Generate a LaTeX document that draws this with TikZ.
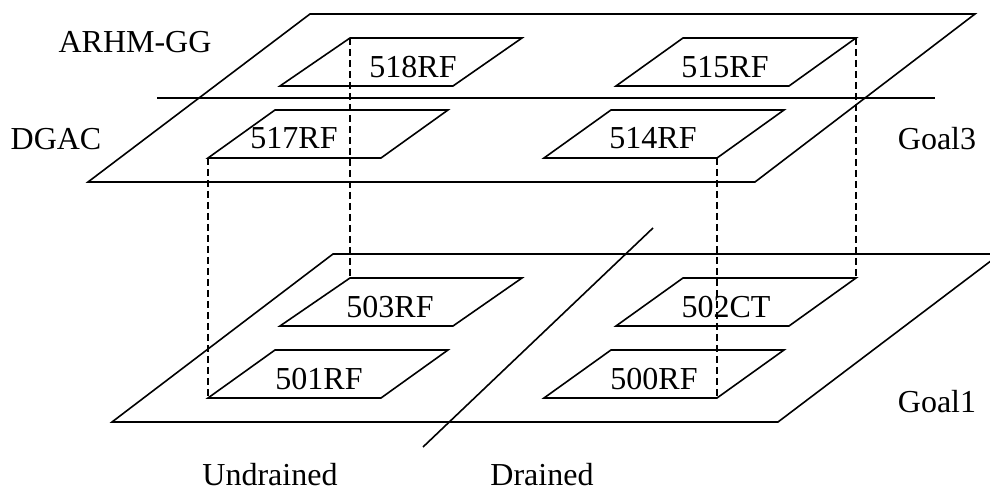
\documentclass[tikz,border=0pt]{standalone}
\usepackage{fontspec}
\setmainfont{Liberation Serif}
\begin{document}
\begin{tikzpicture}[x=0.5pt, y=-0.5pt, line width=0.8pt, line join=miter,
    lbl/.style={font=\fontsize{16}{19}\selectfont, inner sep=0pt},
    link/.style={dash pattern=on 3.5pt off 2pt}]
        \useasboundingbox (0,0) rectangle (990,490);

        % upper plane (Goal3)
        \draw (88,182) -- (755,182) -- (975,14) -- (310,14) -- cycle;
        \draw (157,98) coordinate (sepl) -- (935,98) coordinate (sepr);

        \draw (280,86) -- (453,86) -- (522,38) -- (350,38) coordinate (t518) -- cycle;
        \draw (616,86) -- (789,86) -- (856,38) coordinate (t515) -- (683,38) -- cycle;
        \draw (208,158) coordinate (t517) -- (381,158) -- (448,110) -- (275,110) -- cycle;
        \draw (544,158) -- (717,158) coordinate (t514) -- (784,110) -- (611,110) -- cycle;

        % lower plane (Goal1)
        \draw (112,422) -- (778,422) -- (1000,254) -- (333,254) -- cycle;

        \draw (280,326) -- (453,326) -- (522,278) -- (350,278) coordinate (b503) -- cycle;
        \draw (616,326) -- (789,326) -- (856,278) coordinate (b502) -- (683,278) -- cycle;
        \draw (208,398) coordinate (b501) -- (381,398) -- (448,350) -- (275,350) -- cycle;
        \draw (544,398) -- (717,398) coordinate (b500) -- (784,350) -- (611,350) -- cycle;

        % drained / undrained split
        \draw (653,228) coordinate (cut1) -- (423,447) coordinate (cut2);

        \draw [link] (t518) -- (b503);
        \draw [link] (t515) -- (b502);
        \draw [link] (t517) -- (b501);
        \draw [link] (t514) -- (b500);

        \node [lbl] (arhm) at (135,42) {ARHM-GG};
        \node [lbl] (dgac) at (56,139) {DGAC};
        \node [lbl] (goal3) at (937,139) {Goal3};
        \node [lbl] (goal1) at (937,402) {Goal1};
        \node [lbl] (undrained) at (270,475) {Undrained};
        \node [lbl] (drained) at (542,475) {Drained};

        \node [lbl] (rf518) at (413,67) {518RF};
        \node [lbl] (rf515) at (725,67) {515RF};
        \node [lbl] (rf517) at (294,138) {517RF};
        \node [lbl] (rf514) at (653,138) {514RF};
        \node [lbl] (rf503) at (390,307) {503RF};
        \node [lbl] (ct502) at (726,307) {502CT};
        \node [lbl] (rf501) at (319,379) {501RF};
        \node [lbl] (rf500) at (654,379) {500RF};
      \end{tikzpicture}
\end{document}
